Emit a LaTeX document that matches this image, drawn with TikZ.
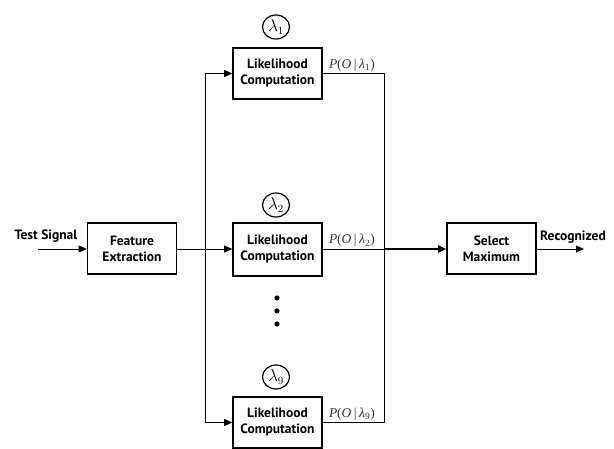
\documentclass[tikz,border=0pt]{standalone}
\usepackage{fontspec}
\setsansfont{PT Sans}
\newfontfamily\plfont{Liberation Serif}
\usetikzlibrary{arrows.meta,shapes.geometric}
\newcommand{\plab}[1]{{\plfont\textit{P}(\textit{O}\kern2.5pt|\kern2.5pt\textit{λ}\textsubscript{#1})}}
\begin{document}
\begin{tikzpicture}[x=1pt,y=-1pt,
  blk/.style={draw,line width=1.6pt,minimum width=89pt,minimum height=51pt,inner sep=0pt,align=center,font=\sffamily\bfseries\fontsize{13.5}{16}\selectfont},
  conn/.style={line width=0.9pt},
  arr/.style={conn,-{Triangle[length=8pt,width=7pt]}},
  lam/.style={draw,line width=1.2pt,ellipse,inner sep=0pt,minimum width=27pt,minimum height=24pt,font=\fontsize{16}{18}\selectfont},
  plabst/.style={font=\fontsize{13.5}{15}\selectfont,text=black!80,anchor=south west,inner sep=1pt,xshift=5pt,yshift=1pt},
  txt/.style={font=\sffamily\bfseries\fontsize{13.5}{16}\selectfont,inner sep=0pt}]
\useasboundingbox (0,0) rectangle (614,449);
\node[blk] (fe) at (132,248.5) {Feature\\Extraction};
\node[blk] (l1) at (277.5,73.5) {Likelihood\\Computation};
\node[blk,minimum height=53pt] (l2) at (277.5,249.5) {Likelihood\\Computation};
\node[blk] (l3) at (277.5,422.5) {Likelihood\\Computation};
\node[blk] (sm) at (491.5,248.5) {Select\\Maximum};
\node[lam] (c1) at (276,27) {$\lambda_1$};
\node[lam] (c2) at (276,205) {$\lambda_2$};
\node[lam] (c3) at (276,377) {$\lambda_9$};
\node[txt] (ts) at (46,236) {Test Signal};
\node[txt] (rc) at (573,237) {Recognized};
\coordinate (in) at (38,249);
\coordinate (out) at (584,249);
\coordinate (split) at (205,249);
\coordinate (merge) at (384,249);
\draw[arr] (in) -- (in -| fe.west);
\draw[arr] (fe.east |- split) -- (l2.west |- split);
\draw[arr] (split) |- (l1.west);
\draw[arr] (split) |- (l3.west);
\draw[conn] (l1.east) -| (merge);
\draw[conn] (l3.east) -| (merge);
\draw[conn] (l2.east |- merge) -- (merge);
\draw[arr,line width=1.8pt] (merge) -- (merge -| sm.west);
\draw[arr] (out -| sm.east) -- (out);
\node[plabst] (p1) at (l1.east) {\plab{1}};
\node[plabst] (p2) at (l2.east |- merge) {\plab{2}};
\node[plabst] (p3) at (l3.east) {\plab{9}};
\foreach \yy in {298,311,324}
  \fill (277,\yy) circle (2.6pt);
\end{tikzpicture}
\end{document}
